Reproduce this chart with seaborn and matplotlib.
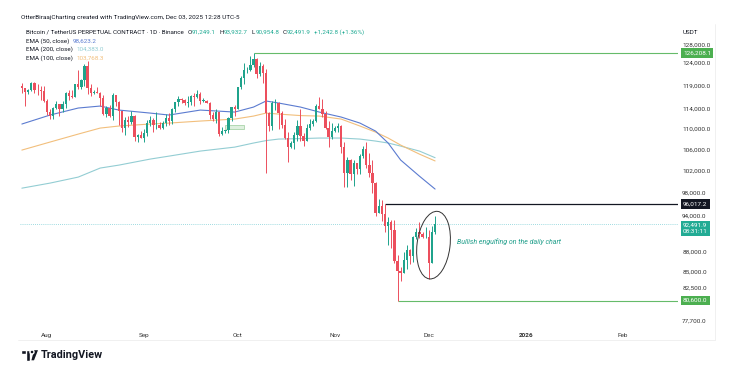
import numpy as np
import pandas as pd
import matplotlib
matplotlib.use("Agg")
import matplotlib.pyplot as plt
from matplotlib.patches import Ellipse, Rectangle, Polygon
from matplotlib.ticker import NullLocator
from matplotlib.transforms import IdentityTransform, offset_copy
import seaborn as sns

# ----- data (prices in thousands USDT, daily candles) -----
first_day = "2025-07-24"
last_day = "2025-12-03"

opens = [
    118.75, 118.35, 117.60, 117.95, 119.45, 118.05, 117.90, 117.80,
    115.75, 113.30, 112.55, 114.20, 115.05, 114.10, 114.95, 117.45, 116.65, 116.50,
    119.30, 118.70, 120.15, 123.30, 118.35, 117.40, 117.50, 117.45, 116.25, 112.90,
    114.25, 112.50, 116.90, 115.40, 113.50, 110.10, 111.80, 111.30, 112.60, 108.40, 108.80,
    108.20, 109.20, 111.20, 111.70, 110.70, 110.70, 110.20, 111.10, 112.10, 111.50,
    113.90, 115.50, 116.10, 115.90, 115.30, 115.40, 116.80, 116.50, 117.10, 115.70,
    115.70, 115.30, 112.70, 112.00, 113.30, 109.00, 109.60, 109.70, 112.10, 114.40,
    114.00, 118.60, 120.60, 122.30, 122.40, 123.50, 124.70, 121.40, 123.30, 121.70,
    113.20, 110.60, 115.20, 115.30, 113.10, 110.80, 108.20, 106.50, 107.20, 108.70,
    110.60, 108.50, 107.60, 110.10, 111.00, 111.60, 114.60, 114.10, 112.90, 110.10, 108.30,
    109.60, 110.10, 110.60, 106.50, 101.50, 103.90, 101.30, 103.30, 102.30, 104.70,
    106.00, 103.00, 101.60, 99.70, 94.50, 95.60, 94.20, 92.20, 92.90, 91.50,
    86.60, 85.10, 84.70, 86.80, 88.30, 87.40, 90.50, 91.30, 90.90, 90.40,
    90.40, 86.30, 91.2491,
]
highs = [
    119.55, 118.45, 118.30, 119.80, 119.80, 119.25, 118.80, 118.90,
    116.10, 114.00, 114.40, 115.70, 115.10, 115.70, 117.65, 117.90, 117.90, 119.30,
    122.30, 120.30, 123.70, 124.45, 119.20, 117.95, 118.60, 117.60, 117.00, 114.65,
    114.80, 117.40, 117.00, 115.70, 113.60, 112.40, 112.60, 113.50, 112.70, 108.90, 109.50,
    109.90, 111.80, 112.60, 112.20, 113.40, 111.30, 111.60, 112.90, 113.20, 114.30,
    115.50, 116.70, 116.30, 116.10, 116.80, 116.90, 117.30, 117.90, 117.50, 116.20,
    115.90, 115.40, 113.30, 113.90, 113.40, 110.30, 109.80, 112.30, 114.40, 114.80,
    118.60, 121.00, 123.90, 122.90, 125.50, 126.21, 125.10, 124.10, 123.70, 122.50,
    113.40, 115.70, 116.00, 115.40, 113.60, 111.90, 109.30, 107.50, 109.40, 111.70,
    114.00, 109.10, 111.00, 112.00, 111.90, 115.00, 116.40, 116.10, 113.60, 111.60, 111.20,
    110.50, 111.20, 110.70, 107.30, 104.50, 104.20, 104.00, 103.40, 105.00, 106.60,
    107.40, 105.30, 104.00, 99.80, 96.80, 96.60, 96.00, 93.80, 93.20, 93.20,
    87.50, 85.60, 88.00, 89.20, 88.50, 90.60, 91.90, 92.90, 91.20, 92.00,
    91.50, 92.30, 93.9327,
]
lows = [
    117.30, 114.70, 117.20, 117.85, 117.45, 116.95, 115.80, 115.55,
    112.70, 112.00, 112.00, 114.10, 112.65, 113.35, 114.25, 115.90, 116.30, 116.50,
    118.10, 118.20, 118.90, 117.20, 116.80, 117.15, 117.30, 114.70, 112.70, 112.40,
    112.40, 111.70, 114.60, 110.80, 109.30, 108.70, 110.40, 110.90, 107.50, 107.40, 108.10,
    107.30, 108.60, 110.60, 109.30, 110.00, 109.90, 110.00, 110.60, 110.80, 110.90,
    113.40, 114.70, 115.20, 114.90, 114.40, 114.80, 114.70, 116.30, 115.10, 115.50,
    115.20, 112.00, 111.50, 111.20, 108.60, 108.70, 109.10, 109.20, 111.50, 112.60,
    113.90, 118.30, 119.30, 121.60, 122.10, 123.00, 120.60, 121.10, 119.60, 101.50,
    109.60, 109.70, 113.80, 110.00, 110.20, 107.90, 103.50, 106.30, 106.10, 107.50,
    107.50, 106.70, 107.50, 109.70, 110.50, 111.30, 114.00, 112.30, 109.90, 106.40, 108.00,
    109.40, 109.30, 105.30, 98.90, 98.90, 100.30, 99.20, 101.40, 101.30, 104.30,
    102.50, 100.80, 98.00, 94.00, 94.50, 93.00, 91.30, 89.20, 88.60, 86.30,
    80.60, 83.50, 84.70, 85.30, 86.10, 86.40, 90.10, 90.20, 90.30, 90.30,
    83.80, 86.20, 90.9548,
]
closes = [
    118.35, 117.60, 117.95, 119.45, 118.05, 117.90, 117.80, 115.75,
    113.30, 112.55, 114.20, 115.05, 114.10, 114.95, 117.45, 116.65, 116.50, 119.30,
    118.70, 120.15, 123.30, 118.35, 117.40, 117.50, 117.45, 116.25, 112.90, 114.25,
    112.50, 116.90, 115.40, 113.50, 110.10, 111.80, 111.30, 112.60, 108.40, 108.80, 108.20,
    109.20, 111.20, 111.70, 110.70, 110.70, 110.20, 111.10, 112.10, 111.50, 113.90,
    115.50, 116.10, 115.90, 115.30, 115.40, 116.80, 116.50, 117.10, 115.70, 115.70,
    115.30, 112.70, 112.00, 113.30, 109.00, 109.60, 109.70, 112.10, 114.40, 114.00,
    118.60, 120.60, 122.30, 122.40, 123.50, 124.70, 121.40, 123.30, 121.70, 113.20,
    110.60, 115.20, 115.30, 113.10, 110.80, 108.20, 106.50, 107.20, 108.70, 110.60,
    108.50, 107.60, 110.10, 111.00, 111.60, 114.60, 114.10, 112.90, 110.10, 108.30, 109.60,
    110.10, 110.60, 106.50, 101.50, 103.90, 101.30, 103.30, 102.30, 104.70, 106.00,
    103.00, 101.60, 99.70, 94.50, 95.60, 94.20, 92.20, 92.90, 91.50, 86.60,
    85.10, 84.70, 86.80, 88.30, 87.40, 90.50, 91.30, 90.90, 90.40, 90.40,
    86.30, 91.25, 92.4919,
]

# EMA readings (thousands) at sampled dates
ema_dates = ["2025-07-24", "2025-08-02", "2025-08-11", "2025-08-18", "2025-08-24",
             "2025-09-03", "2025-09-09", "2025-09-19", "2025-09-30", "2025-10-06",
             "2025-10-10", "2025-10-14", "2025-10-21", "2025-10-27", "2025-11-03",
             "2025-11-09", "2025-11-14", "2025-11-18", "2025-11-22", "2025-11-28",
             "2025-12-03"]
ema50 = [110.94, 112.76, 114.20, 114.61, 113.78, 113.16, 112.76, 113.78, 113.37, 114.40,
         115.66, 115.24, 114.40, 113.37, 112.35, 111.13, 109.53, 107.19, 103.94, 100.95, 98.62]
ema100 = [105.83, 107.38, 108.94, 110.13, 110.54, 110.94, 111.13, 111.54, 111.94, 112.55,
          113.16, 112.96, 112.65, 112.55, 111.94, 110.54, 109.33, 108.16, 106.79, 105.06, 103.77]
ema200 = [98.78, 99.69, 100.78, 102.44, 102.99, 104.12, 104.68, 105.64, 106.40, 107.19,
          107.66, 107.96, 108.05, 108.16, 108.16, 107.96, 107.57, 107.19, 106.60, 105.64, 104.38]

ema_labels = ["EMA (50, close)", "EMA (200, close)", "EMA (100, close)"]
ema_values = ["98,623.2", "104,383.0", "103,768.3"]

month_ticks = ["2025-08-01", "2025-09-01", "2025-10-01", "2025-11-01",
               "2025-12-01", "2026-01-01", "2026-02-01"]
month_labels = ["Aug", "Sep", "Oct", "Nov", "Dec", "2026", "Feb"]
price_ticks = [128000, 124000, 119000, 114000, 110000, 106000, 102000,
               98000, 94000, 88000, 85000, 82500, 77700]

ath_level, ath_day = 126208.1, "2025-10-06"
res_level, res_day = 96017.2, "2025-11-17"
low_level, low_day = 80600.0, "2025-11-21"
last_close = 92491.9

# ----- style -----
GREEN = "#1fa38c"
RED = "#ec4f5d"
C50, C100, C200 = "#5b7bd0", "#f2bf7c", "#93cdd3"
TXT = "#131722"
VAL = "#22ab94"

sns.set_style("white")
plt.rcParams["font.family"] = ["Roboto", "DejaVu Sans"]

W, H = 745, 368
fig = plt.figure(figsize=(W / 100, H / 100), dpi=100)
ax = fig.add_axes([20 / W, 1 - 327 / H, 658 / W, 301 / H])
ax.set_yscale("log")

dates = pd.date_range(first_day, last_day, freq="D")
o = np.array(opens) * 1000
h = np.array(highs) * 1000
l = np.array(lows) * 1000
c = np.array(closes) * 1000
cols = np.where(c >= o, GREEN, RED)

ax.vlines(dates, l, h, colors=cols, lw=0.7, zorder=3)
ax.bar(dates, np.maximum(np.abs(c - o), 80), bottom=np.minimum(o, c), width=0.74,
       color=cols, linewidth=0, zorder=4)

ema_df = pd.DataFrame({"date": pd.to_datetime(ema_dates),
                       "ema50": np.array(ema50) * 1000,
                       "ema100": np.array(ema100) * 1000,
                       "ema200": np.array(ema200) * 1000})
for col, colr in [("ema200", C200), ("ema100", C100), ("ema50", C50)]:
    sns.lineplot(data=ema_df, x="date", y=col, color=colr, lw=0.8, ax=ax, zorder=2)
ax.set_xlabel("")
ax.set_ylabel("")

aug1 = pd.Timestamp("2025-08-01")
x_left = aug1 - pd.Timedelta(days=8.6)
x_right = aug1 + pd.Timedelta(days=201.6)
ax.set_xlim(x_left, x_right)
ax.set_ylim(76828, 132482)

# levels
ax.axhline(last_close, color="#7fcfd6", lw=0.6, ls=(0, (1, 1.5)), zorder=1)
ax.hlines(ath_level, pd.Timestamp(ath_day), x_right, color="#66bb6a", lw=0.8, zorder=2)
ax.hlines(res_level, pd.Timestamp(res_day), x_right, color=TXT, lw=0.9, zorder=2)
ax.hlines(low_level, pd.Timestamp(low_day), x_right, color="#66bb6a", lw=0.8, zorder=2)

# small drawing near end of September
ax.add_patch(Rectangle((pd.Timestamp("2025-09-27"), 110000), pd.Timedelta(days=6), 700,
                       fc="#dff0df", ec="#9ccc9c", lw=0.5, zorder=2))

# axes, ticks
for s in ax.spines.values():
    s.set_visible(False)
ax.set_xticks(pd.to_datetime(month_ticks))
ax.set_xticklabels(month_labels)
ax.tick_params(axis="x", length=0, pad=4, labelsize=4.6, labelcolor="#333333")
for t in ax.get_xticklabels():
    if t.get_text() == "2026":
        t.set_fontweight("bold")
ax.yaxis.tick_right()
ax.set_yticks(price_ticks)
ax.set_yticklabels([f"{v:,.1f}" for v in price_ticks])
ax.yaxis.set_minor_locator(NullLocator())
ax.tick_params(axis="y", length=0, pad=3, labelsize=4.6, labelcolor="#333333")


def price_tag(y, text, fc, dy=0):
    tr = offset_copy(ax.get_yaxis_transform(), fig=fig, x=0, y=dy, units="dots")
    ax.text(1.0075, y, text, transform=tr, ha="left", va="center",
            fontsize=4.6, color="white", linespacing=1.3, clip_on=False, zorder=6,
            bbox=dict(boxstyle="square,pad=0.35", fc=fc, ec="none"))


price_tag(ath_level, f"{ath_level:,.1f}", "#4caf50")
price_tag(res_level, f"{res_level:,.1f}", TXT)
price_tag(last_close, f"{last_close:,.1f}\n08:31:11", "#22ab94", dy=-4)
price_tag(low_level, f"{low_level:,.1f}", "#4caf50")

# ellipse + note around the last candles
fig.canvas.draw()
cx, cy = ax.transData.transform((ax.xaxis.convert_units(pd.Timestamp("2025-12-02 12:00")), 89100))
fig.add_artist(Ellipse((cx, cy), 33, 68, angle=-7, transform=IdentityTransform(),
                       fill=False, ec="#333333", lw=0.7))
ax.text(pd.Timestamp("2025-12-10"), 89600, "Bullish engulfing on the daily chart",
        fontsize=5, style="italic", color="#1f9e8a", va="center", ha="left")


# header texts
def fx(x):
    return x / W


def fy(y):
    return 1 - y / H


def chain(x, y, parts, size):
    prev = fig.text(fx(x), fy(y), parts[0][0], color=parts[0][1], fontsize=size, va="center")
    for txt, colr, gap in parts[1:]:
        prev = ax.annotate(txt, xy=(1, 0.5), xycoords=prev, xytext=(gap, 0),
                           textcoords="offset points", va="center", ha="left",
                           color=colr, fontsize=size, annotation_clip=False)


fig.text(fx(21), fy(17), "OtterBiraajCharting created with TradingView.com, Dec 03, 2025 12:28 UTC-5",
         fontsize=4.6, color=TXT, va="center")
chain(26, 32, [("Bitcoin / TetherUS PERPETUAL CONTRACT · 1D · Binance", TXT, 0),
               ("O", TXT, 2.5), ("91,249.1", VAL, 0.3),
               ("H", TXT, 2.5), ("93,932.7", VAL, 0.3),
               ("L", TXT, 2.5), ("90,954.8", VAL, 0.3),
               ("C", TXT, 2.5), ("92,491.9", VAL, 0.3),
               ("+1,242.8 (+1.36%)", VAL, 2.5)], 4.5)
for i, (lab, val, colr) in enumerate(zip(ema_labels, ema_values, [C50, C200, C100])):
    chain(26, 41 + 8.5 * i, [(lab, TXT, 0), (val, colr, 2.5)], 4.5)

fig.text(fx(683), fy(32), "USDT", fontsize=4.5, color=TXT, va="center")

# frame lines of the chart pane
fig.add_artist(plt.Line2D([fx(18), fx(715)], [fy(340), fy(340)], color="#eeeeee", lw=0.6))
fig.add_artist(plt.Line2D([fx(715), fx(715)], [fy(24), fy(340)], color="#eeeeee", lw=0.6))

# TradingView logo
logo = [Rectangle((fx(21), fy(354)), 9 / W, 4.5 / H),
        Rectangle((fx(25.5), fy(361)), 4.5 / W, 11.5 / H),
        Polygon([(fx(33.5), fy(349.5)), (fx(39), fy(349.5)), (fx(34.5), fy(361)), (fx(30.5), fy(361))])]
for p in logo:
    p.set_transform(fig.transFigure)
    p.set_facecolor(TXT)
    fig.add_artist(p)
fig.add_artist(Ellipse((fx(32), fy(352)), 4 / W, 4 / H, transform=fig.transFigure, fc=TXT))
fig.text(fx(41), fy(355.5), "TradingView", fontsize=7.8, fontweight="bold", color=TXT, va="center")

fig.savefig("out.png", dpi=100)
